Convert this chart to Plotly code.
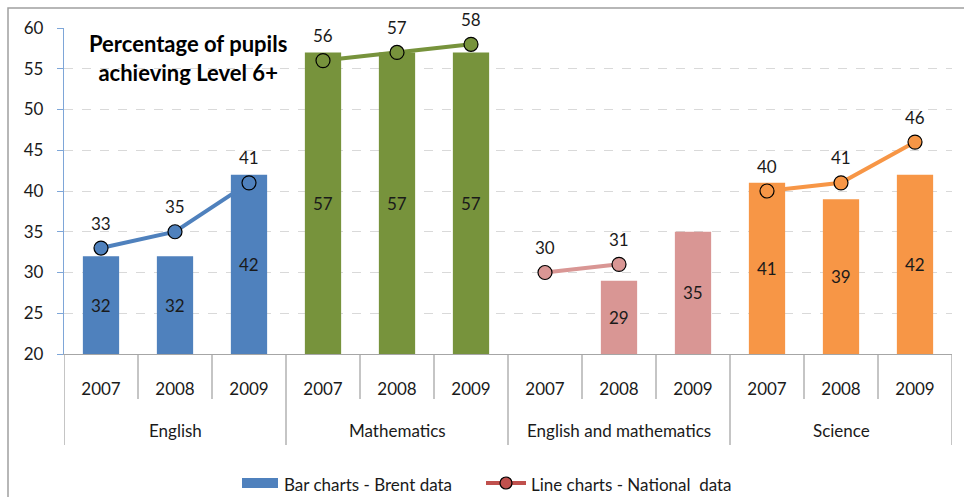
import plotly.graph_objects as go

# ---- data ----
subjects = ["English", "Mathematics", "English and mathematics", "Science"]
years = ["2007", "2008", "2009"]
brent_values = [32, 32, 42, 57, 57, 57, None, 29, 35, 41, 39, 42]
national_values = [33, 35, 41, 56, 57, 58, 30, 31, None, 40, 41, 46]
subject_colors = ["#4F81BD", "#77933C", "#D99694", "#F79646"]

FONT = "Lato"
FS = 17
TEXT = "#1a1a1a"
Y_MIN, Y_MAX = 20, 60
n_years = len(years)
n_cats = len(subjects) * n_years
xs = list(range(n_cats))
bar_colors = [subject_colors[i // n_years] for i in xs]

fig = go.Figure()

# Brent data: bars
fig.add_trace(go.Bar(
    x=xs, y=brent_values,
    marker=dict(color=bar_colors, line=dict(width=0)),
    width=0.49, showlegend=False, hoverinfo="skip",
))

annotations = []
# bar value labels, centred in the visible part of each bar
for xv, v in zip(xs, brent_values):
    if v is not None:
        annotations.append(dict(
            x=xv, y=(Y_MIN + v) / 2, xref="x", yref="y", text=str(v),
            showarrow=False, xanchor="center", yanchor="middle",
            font=dict(family=FONT, size=FS, color=TEXT),
        ))

# National data: one line per subject, value above each marker
for g, subj in enumerate(subjects):
    gx = xs[g * n_years:(g + 1) * n_years]
    gy = national_values[g * n_years:(g + 1) * n_years]
    fig.add_trace(go.Scatter(
        x=gx, y=gy, mode="lines+markers",
        line=dict(color=subject_colors[g], width=4),
        marker=dict(size=14, color=subject_colors[g], line=dict(color="#000000", width=1.2)),
        showlegend=False, hoverinfo="skip", cliponaxis=False,
    ))
    for xv, yv in zip(gx, gy):
        if yv is not None:
            annotations.append(dict(
                x=xv, y=yv, xref="x", yref="y", text=str(yv), showarrow=False,
                xanchor="center", yanchor="middle", yshift=25,
                font=dict(family=FONT, size=FS, color=TEXT),
            ))

# plot area geometry (pixels) used to place the category axis decorations
W, H = 964, 497
ml, mr, mt, mb = 64, 12, 28, 143
ph = H - mt - mb
pw = W - ml - mr


def py(pixel_y):
    return (H - mb - pixel_y) / ph


def px(pixel_x):
    return (pixel_x - ml) / pw


shapes = []
# category separators: short ones between years, long ones between subjects
for k in range(n_cats + 1):
    long_sep = (k % n_years == 0)
    shapes.append(dict(
        type="line", xref="x", yref="paper",
        x0=k - 0.5, x1=k - 0.5, y0=0, y1=py(445 if long_sep else 399),
        line=dict(color="#A6A6A6", width=1.3),
    ))

# subject names under the years
for g, subj in enumerate(subjects):
    annotations.append(dict(
        x=g * n_years + (n_years - 1) / 2, y=py(430), xref="x", yref="paper",
        xanchor="center", yanchor="middle",
        text=subj, showarrow=False, font=dict(family=FONT, size=FS, color=TEXT),
    ))

# chart title inside the plot area
annotations.append(dict(
    x=px(188), y=py(58), xref="paper", yref="paper",
    xanchor="center", yanchor="middle",
    text="<b>Percentage of pupils<br>achieving Level 6+</b>", showarrow=False,
    font=dict(family=FONT, size=22, color="#000000"), align="center",
))

# legend
shapes.append(dict(type="rect", xref="paper", yref="paper",
                   x0=px(242), x1=px(278), y0=py(488), y1=py(478),
                   fillcolor="#4F81BD", line=dict(width=0)))
annotations.append(dict(x=px(282), y=py(484), xref="paper", yref="paper",
                        xanchor="left", yanchor="middle",
                        text="Bar charts - Brent data", showarrow=False,
                        font=dict(family=FONT, size=FS, color=TEXT)))
shapes.append(dict(type="line", xref="paper", yref="paper",
                   x0=px(486), x1=px(526), y0=py(483), y1=py(483),
                   line=dict(color="#C0504D", width=4)))
shapes.append(dict(type="circle", xref="paper", yref="paper",
                   x0=px(500), x1=px(512), y0=py(489), y1=py(477),
                   fillcolor="#C0504D", line=dict(color="#000000", width=1.2)))
annotations.append(dict(x=px(529), y=py(484), xref="paper", yref="paper",
                        xanchor="left", yanchor="middle",
                        text="Line charts - National  data", showarrow=False,
                        font=dict(family=FONT, size=FS, color=TEXT)))

# outer chart frame
shapes.append(dict(type="rect", xref="paper", yref="paper",
                   x0=px(8), x1=px(975), y0=py(8), y1=py(510),
                   line=dict(color="#A0A0A0", width=1.5), fillcolor="rgba(0,0,0,0)",
                   layer="below"))

fig.update_layout(
    width=W, height=H,
    margin=dict(l=ml, r=mr, t=mt, b=mb, pad=0),
    paper_bgcolor="white", plot_bgcolor="white",
    font=dict(family=FONT, size=FS, color=TEXT),
    shapes=shapes, annotations=annotations,
    xaxis=dict(
        range=[-0.5, n_cats - 0.5], tickmode="array", tickvals=xs,
        ticktext=[years[i % n_years] for i in xs],
        showgrid=False, zeroline=False, ticks="",
        showline=True, linecolor="#A6A6A6", linewidth=1.3,
        ticklabelstandoff=19, tickfont=dict(family=FONT, size=FS, color=TEXT),
    ),
    yaxis=dict(
        range=[Y_MIN, Y_MAX], tickmode="array", tickvals=list(range(Y_MIN, Y_MAX + 1, 5)),
        showgrid=True, gridcolor="#D9D9D9", griddash="dash", gridwidth=1.3,
        zeroline=False, showline=True, linecolor="#7EA6D8", linewidth=1.3,
        ticks="outside", ticklen=6, tickcolor="#7EA6D8", tickwidth=1.3,
        ticklabelstandoff=10, tickfont=dict(family=FONT, size=FS, color=TEXT),
    ),
)

fig.write_html("out.html")
